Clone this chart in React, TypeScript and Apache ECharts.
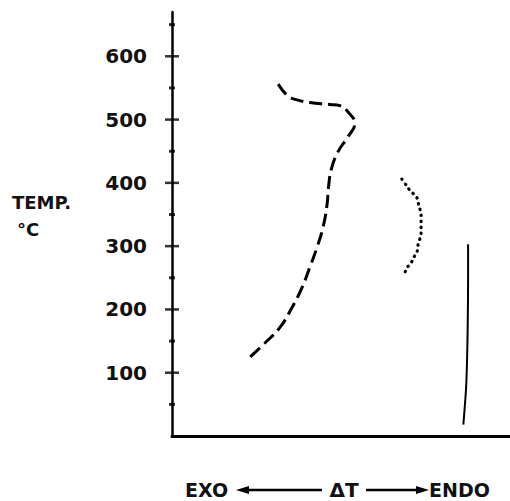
import React, { useEffect, useRef } from "react";
import * as echarts from "echarts";

// Y axis (temperature, °C)
const yMin = 0;
const yMax = 670;
const majorTicks = [100, 200, 300, 400, 500, 600];
const minorTicks = [50, 150, 250, 350, 450, 550, 650];

// ΔT (arbitrary units, 0..100 across the axis) vs temperature
const dashedDT = [31.4, 34.3, 36.4, 40.8, 46.7, 49.7, 52.1, 54.1, 51.8, 49.1, 47.2, 46.3, 45.9, 44.7, 42.9, 40.8, 38.5, 35.5, 32.0, 27.5, 22.5];
const dashedT = [556, 537, 532, 527, 524, 522, 512, 494, 471, 449, 423, 393, 367, 330, 298, 267, 235, 203, 172, 147, 122];

const dottedDT = [68.0, 69.5, 70.4, 71.6, 72.5, 73.1, 73.7, 73.7, 73.7, 73.7, 73.4, 72.8, 72.5, 71.6, 70.7, 69.5, 68.9];
const dottedT = [406, 395, 388, 382, 376, 362, 352, 341, 333, 322, 313, 302, 291, 283, 273, 266, 258];

const solidDT = [87.6, 87.6, 87.5, 87.3, 87.0, 86.6, 86.2];
const solidT = [303, 250, 180, 120, 75, 45, 18];

const yLabel = ["TEMP.", "°C"];
const xLabelLeft = "EXO";
const xLabelMid = "ΔT";
const xLabelRight = "ENDO";

const FONT = "DejaVu Sans";

export default function App() {
  const ref = useRef<HTMLDivElement>(null);
  useEffect(() => {
    if (!ref.current) return;
    const chart = echarts.init(ref.current, undefined, { renderer: "svg" });
    const pairs = (xs: number[], ys: number[]) => xs.map((x, i) => [x, ys[i]]);
    const textStyle = (text: string, x: number, y: number, align: string = "left", size = 19) => ({
      type: "text",
      style: {
        text,
        x,
        y,
        fill: "#111",
        font: `bold ${size}px "${FONT}"`,
        textAlign: align,
        textVerticalAlign: "middle",
      },
    });
    chart.setOption({
      animation: false,
      backgroundColor: "#fff",
      grid: { left: 172, right: 0, top: 12, bottom: 65 },
      xAxis: {
        type: "value",
        min: 0,
        max: 100,
        axisLine: { show: true, lineStyle: { color: "#000", width: 3 } },
        axisTick: { show: false },
        axisLabel: { show: false },
        splitLine: { show: false },
      },
      yAxis: {
        type: "value",
        min: yMin,
        max: yMax,
        interval: 100,
        axisLine: { show: true, lineStyle: { color: "#000", width: 2.5 } },
        axisTick: { show: false },
        splitLine: { show: false },
        axisLabel: {
          showMinLabel: false,
          showMaxLabel: false,
          margin: 25,
          color: "#111",
          fontFamily: FONT,
          fontWeight: "bold",
          fontSize: 20,
        },
      },
      series: [
        {
          type: "scatter",
          data: majorTicks.map((v) => [0, v]),
          symbol: "rect",
          symbolSize: [14, 2.5],
          itemStyle: { color: "#000" },
          clip: false,
          silent: true,
          z: 5,
        },
        {
          type: "scatter",
          data: minorTicks.map((v) => [0, v]),
          symbol: "rect",
          symbolSize: [6, 3],
          itemStyle: { color: "#000" },
          clip: false,
          silent: true,
          z: 5,
        },
        {
          type: "line",
          data: pairs(dashedDT, dashedT),
          smooth: 0.45,
          showSymbol: false,
          lineStyle: { color: "#000", width: 3, type: [13, 6] },
        },
        {
          type: "line",
          data: pairs(dottedDT, dottedT),
          smooth: 0.3,
          showSymbol: false,
          lineStyle: { color: "#000", width: 3.2, type: [0.5, 5.5], cap: "round" },
        },
        {
          type: "line",
          data: pairs(solidDT, solidT),
          smooth: 0.3,
          showSymbol: false,
          lineStyle: { color: "#000", width: 2 },
        },
      ],
      graphic: [
        textStyle(yLabel[0], 12, 202, "left", 18),
        textStyle(yLabel[1], 17, 229, "left", 18),
        textStyle(xLabelLeft, 185, 490),
        textStyle(xLabelMid, 344, 490, "center", 20),
        textStyle(xLabelRight, 429, 490),
        { type: "line", shape: { x1: 244, y1: 490, x2: 322, y2: 490 }, style: { stroke: "#000", lineWidth: 2.5 } },
        { type: "polygon", shape: { points: [[236, 490], [249, 486], [249, 494]] }, style: { fill: "#000" } },
        { type: "line", shape: { x1: 366, y1: 490, x2: 420, y2: 490 }, style: { stroke: "#000", lineWidth: 2.5 } },
        { type: "polygon", shape: { points: [[429, 490], [416, 486], [416, 494]] }, style: { fill: "#000" } },
      ],
    });
    return () => chart.dispose();
  }, []);
  return (
    <div
      ref={ref}
      style={{ position: "fixed", left: 0, top: 0, width: 510, height: 501 }}
    />
  );
}
